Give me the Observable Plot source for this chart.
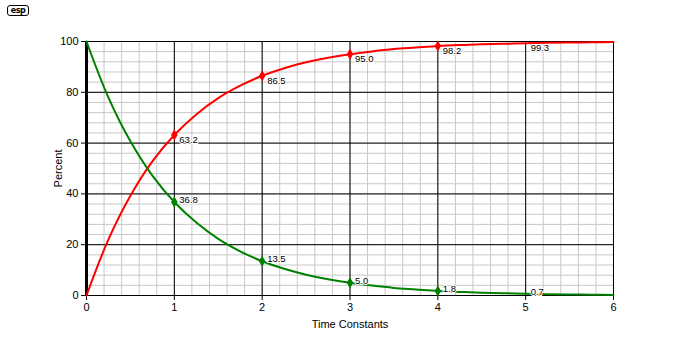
<!DOCTYPE html>
<html>
<head>
<meta charset="utf-8">
<script src="https://cdn.jsdelivr.net/npm/d3@7"></script>
<script src="https://cdn.jsdelivr.net/npm/@observablehq/plot@0.6"></script>
<style>
  body { margin: 0; background: #fff; font-family: "Liberation Sans", Arial, sans-serif; }
  #wrap { position: relative; width: 700px; height: 350px; }
  #logo { position: absolute; left: 7px; top: 5px; width: 20px; height: 9px; border: 1px solid #000; border-radius: 3px;
          font: bold 8px/9px "DejaVu Sans", sans-serif; text-align: center; letter-spacing: -0.5px; }
</style>
</head>
<body>
<div id="wrap"><div id="logo">esp</div></div>
<script>
// Time (in time constants)
const times = [0, 0.25, 0.5, 0.75, 1, 1.25, 1.5, 1.75, 2, 2.25, 2.5, 2.75, 3, 3.25, 3.5, 3.75, 4, 4.25, 4.5, 4.75, 5, 5.25, 5.5, 5.75, 6];
// Charge (red) percent
const charge = [0, 22.1, 39.3, 52.8, 63.2, 71.3, 77.7, 82.6, 86.5, 89.5, 91.8, 93.6, 95.0, 96.1, 97.0, 97.6, 98.2, 98.6, 98.9, 99.1, 99.3, 99.5, 99.6, 99.7, 99.8];
// Discharge (green) percent
const discharge = [100, 77.9, 60.7, 47.2, 36.8, 28.7, 22.3, 17.4, 13.5, 10.5, 8.2, 6.4, 5.0, 3.9, 3.0, 2.4, 1.8, 1.4, 1.1, 0.9, 0.7, 0.5, 0.4, 0.3, 0.2];
// Labelled points
const labelTimes = [1, 2, 3, 4, 5];
const chargeLabels = [63.2, 86.5, 95.0, 98.2, 99.3];
const dischargeLabels = [36.8, 13.5, 5.0, 1.8, 0.7];
const markerTimes = [1, 2, 3, 4];
// Axis ticks
const xTicks = [0, 1, 2, 3, 4, 5, 6];
const yTicks = [0, 20, 40, 60, 80, 100];
const xMinor = d3.range(0, 6.001, 0.2);
const yMinor = d3.range(0, 100.001, 4);

const red = "#ff0000", green = "#008000";
const chargeData = times.map((t, i) => ({t, v: charge[i]}));
const dischargeData = times.map((t, i) => ({t, v: discharge[i]}));
const chargeLab = labelTimes.map((t, i) => ({t, v: chargeLabels[i], s: chargeLabels[i].toFixed(1)}));
const dischargeLab = labelTimes.map((t, i) => ({t, v: dischargeLabels[i], s: dischargeLabels[i].toFixed(1)}));
const chargeMk = chargeLab.filter(d => markerTimes.includes(d.t));
const dischargeMk = dischargeLab.filter(d => markerTimes.includes(d.t));

const chart = Plot.plot({
  width: 700,
  height: 350,
  marginLeft: 86,
  marginRight: 87,
  marginTop: 41,
  marginBottom: 55,
  style: {fontFamily: "'Liberation Sans', Arial, sans-serif", fontSize: "11px", color: "#000", background: "#fff"},
  x: {domain: [0, 6], ticks: xTicks, tickFormat: "d", tickSize: 5, tickPadding: 3, label: "Time Constants", labelAnchor: "center", labelOffset: 32, labelArrow: "none"},
  y: {domain: [0, 100], ticks: yTicks, tickFormat: "d", tickSize: 5, tickPadding: 3, label: "Percent", labelAnchor: "center", labelOffset: 32, labelArrow: "none"},
  marks: [
    Plot.ruleX(xMinor, {stroke: "#c8c8c8", strokeWidth: 1}),
    Plot.ruleY(yMinor, {stroke: "#c8c8c8", strokeWidth: 1}),
    Plot.ruleY(yTicks, {stroke: "#000", strokeWidth: 1}),
    Plot.ruleX(xTicks, {stroke: "#000", strokeWidth: 1}),
    Plot.frame({stroke: "#000", strokeWidth: 1}),
    Plot.ruleX([0], {stroke: "#000", strokeWidth: 3}),
    Plot.line(chargeData, {x: "t", y: "v", stroke: red, strokeWidth: 2, curve: "catmull-rom"}),
    Plot.line(dischargeData, {x: "t", y: "v", stroke: green, strokeWidth: 2, curve: "catmull-rom"}),
    Plot.dot(chargeMk, {x: "t", y: "v", symbol: "diamond", r: 2.5, fill: red, stroke: red}),
    Plot.dot(dischargeMk, {x: "t", y: "v", symbol: "diamond", r: 2.5, fill: green, stroke: green}),
    Plot.text(chargeLab, {x: "t", y: "v", text: "s", dx: 5, dy: 5, textAnchor: "start", fontSize: 9.5, fill: "#000", stroke: "#fff", strokeWidth: 2}),
    Plot.text(dischargeLab, {x: "t", y: "v", text: "s", dx: 5, dy: -2, textAnchor: "start", fontSize: 9.5, fill: "#000", stroke: "#fff", strokeWidth: 2})
  ]
});
document.getElementById("wrap").appendChild(chart);
</script>
</body>
</html>
